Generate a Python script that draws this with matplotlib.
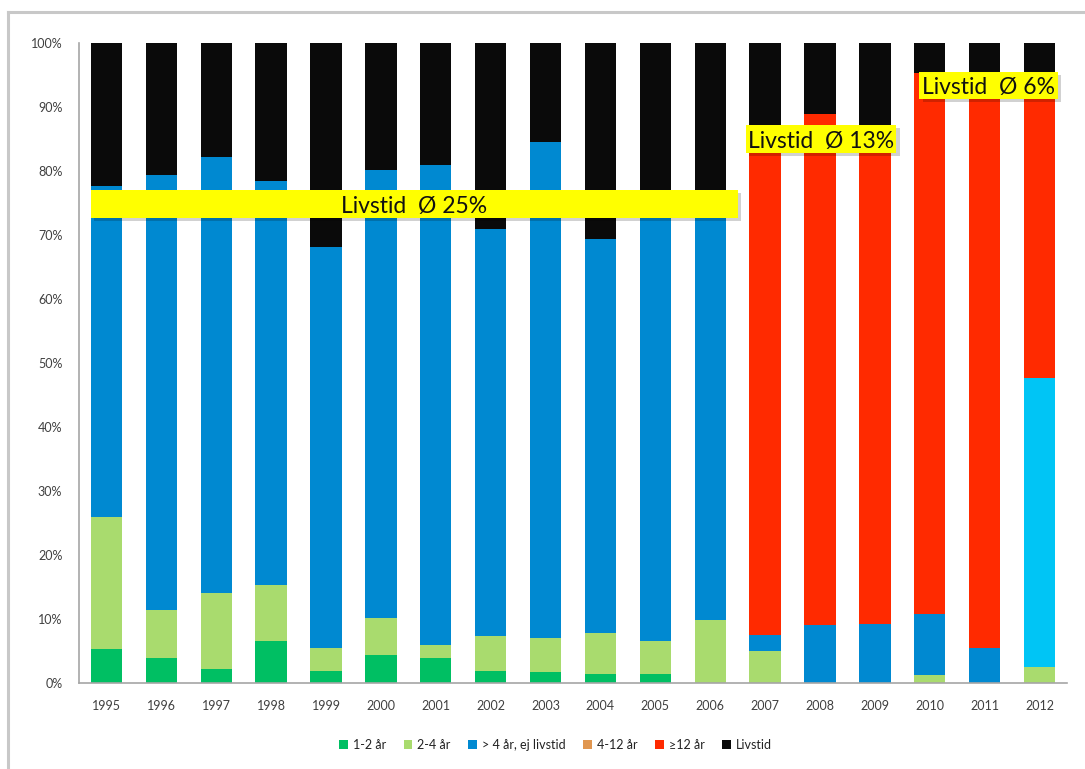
import numpy as np
import matplotlib
matplotlib.use('Agg')
import matplotlib.pyplot as plt
from matplotlib.patches import Patch, Rectangle
from matplotlib.lines import Line2D

plt.rcParams['font.family'] = ['Lato', 'DejaVu Sans']

# Data (percent of each year's sentences)
years = ['1995', '1996', '1997', '1998', '1999', '2000', '2001', '2002', '2003',
         '2004', '2005', '2006', '2007', '2008', '2009', '2010', '2011', '2012']
one_two = [5.3, 3.9, 2.2, 6.6, 1.9, 4.4, 3.9, 1.9, 1.7, 1.4, 1.4, 0, 0, 0, 0, 0, 0, 0]
two_four = [20.6, 7.5, 11.9, 8.7, 3.6, 5.8, 2.0, 5.4, 5.3, 6.4, 5.2, 9.8, 5.0, 0, 0, 1.3, 0, 2.5]
over_four = [51.8, 68.0, 68.1, 63.1, 62.6, 70.0, 75.0, 63.6, 77.5, 61.6, 69.4, 66.2,
             2.5, 9.1, 9.2, 9.5, 5.5, 0]
four_twelve = [0, 0, 0, 0, 0, 0, 0, 0, 0, 0, 0, 0, 0, 0, 0, 0, 0, 45.2]
twelve_plus = [0, 0, 0, 0, 0, 0, 0, 0, 0, 0, 0, 0, 78.5, 79.8, 76.8, 84.5, 88.5, 46.3]
livstid = [22.3, 20.6, 17.8, 21.6, 31.9, 19.8, 19.1, 29.1, 15.5, 30.6, 24.0, 24.0,
           14.0, 11.1, 14.0, 4.7, 6.0, 6.0]

labels = ['1-2 år', '2-4 år', '> 4 år, ej livstid', '4-12 år', '≥12 år', 'Livstid']
colors = ['#00BF63', '#A9DB6E', '#0089D1', '#E0964F', '#FF2A00', '#0A0A0A']

fig = plt.figure(figsize=(10.85, 7.69), dpi=100)
ax = fig.add_axes([0.0728, 0.1118, 0.9106, 0.8323])

x = np.arange(len(years))
width = 0.57
bottom = np.zeros(len(years))
series = [one_two, two_four, over_four, four_twelve, twelve_plus, livstid]
for i, vals in enumerate(series):
    vals = np.array(vals, dtype=float)
    col = colors[i]
    if i == 3:
        col = '#00C5F5'  # the 2012 segment is drawn in light blue
    ax.bar(x, vals, width, bottom=bottom, color=col, linewidth=0)
    bottom += vals

ax.set_xlim(-0.5, 17.5)
ax.set_ylim(0, 100)
ax.set_yticks(np.arange(0, 101, 10))
ax.set_yticklabels([f'{v}%' for v in range(0, 101, 10)])
ax.set_xticks(x)
ax.set_xticklabels(years)
ax.tick_params(length=0, labelsize=9, colors='#404040')
ax.tick_params(axis='y', pad=12)
ax.tick_params(axis='x', pad=12)
for s in ['top', 'right']:
    ax.spines[s].set_visible(False)
for s in ['left', 'bottom']:
    ax.spines[s].set_color('#A6A6A6')
    ax.spines[s].set_linewidth(1.2)


# yellow "Livstid" boxes
def label_box(x0, x1, y0, y1, text, ha):
    ax.add_patch(Rectangle((x0 + 0.06, y0 - 0.5), x1 - x0, y1 - y0, facecolor='#000000',
                           alpha=0.18, linewidth=0, zorder=4))
    ax.add_patch(Rectangle((x0, y0), x1 - x0, y1 - y0, facecolor='#FFFF00',
                           linewidth=0, zorder=5))
    tx = (x0 + x1) / 2 if ha == 'center' else x0 + 0.04
    ax.text(tx, (y0 + y1) / 2 - 0.4, text, ha=ha, va='center', fontsize=16.5,
            color='#111111', zorder=6)


label_box(-0.285, 11.5, 72.7, 77.0, 'Livstid  Ø 25%', 'center')
label_box(11.65, 14.39, 82.8, 87.2, 'Livstid  Ø 13%', 'left')
label_box(14.81, 17.33, 91.25, 95.5, 'Livstid  Ø 6%', 'left')

handles = [Patch(facecolor=c, edgecolor='none') for c in colors]
fig.legend(handles, labels, loc='center', bbox_to_anchor=(0.512, 0.031), ncol=6,
           frameon=False, fontsize=9, handlelength=0.7, handleheight=0.7,
           handletextpad=0.4, columnspacing=1.4, labelcolor='#222222')

# outer grey frame (left and top edges)
fig.add_artist(Line2D([8 / 1085, 8 / 1085], [0, 1 - 12 / 769], color='#C8C8C8', lw=2.2,
                      transform=fig.transFigure))
fig.add_artist(Line2D([8 / 1085, 1], [1 - 12 / 769, 1 - 12 / 769], color='#C8C8C8', lw=2.2,
                      transform=fig.transFigure))

fig.savefig('out.png', dpi=100)
